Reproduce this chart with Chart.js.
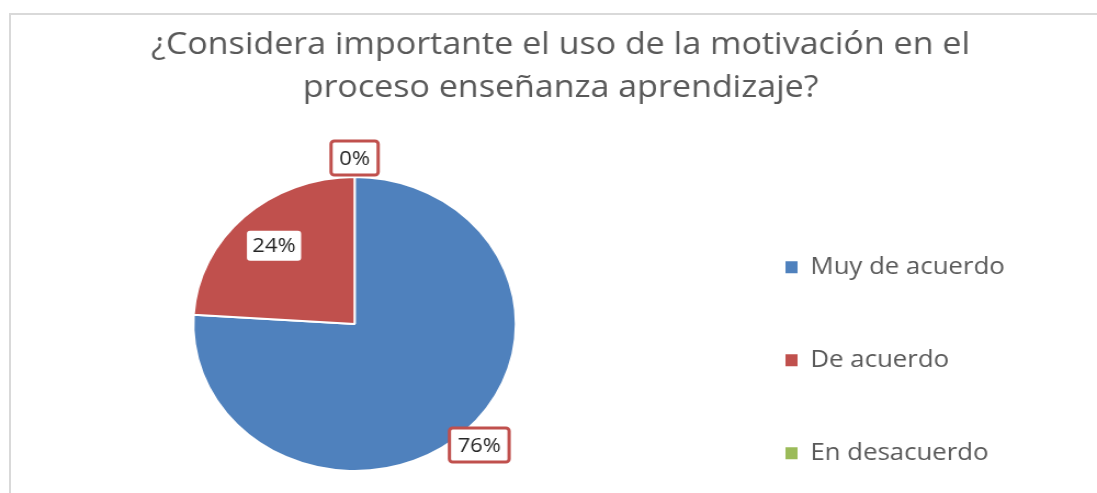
<!DOCTYPE html>
<html>
<head>
<meta charset="utf-8">
<script src="https://cdn.jsdelivr.net/npm/chart.js@4/dist/chart.umd.min.js"></script>
<style>
  html, body { margin: 0; padding: 0; background: #fff; overflow: hidden; }
  #frame { position: absolute; left: 9px; top: 13px; width: 1200px; height: 600px;
           border-left: 2px solid #d9d9d9; border-top: 2px solid #d9d9d9; }
  #wrap { position: absolute; left: 0; top: 0; width: 1000px; height: 493px;
          transform: scaleX(1.097); transform-origin: 0 0; }
</style>
</head>
<body>
<div id="frame"></div>
<div id="wrap"><canvas id="myChart"></canvas></div>
<script>
const titleLines = ['¿Considera importante el uso de la motivación en el', 'proceso enseñanza aprendizaje?']
const categories = ['Muy de acuerdo', 'De acuerdo', 'En desacuerdo']
const values = [76, 24, 0]
const colors = ['#4F81BD', '#C0504D', '#9BBB59']
const labelInside = [false, true, false]

const font = "'Open Sans', sans-serif"

// put the boxes where the original office chart has them
// (pie on the left, legend column on the right, title centred on the frame)
const placeBoxes = {
  id: 'placeBoxes',
  afterLayout(chart) {
    const a = chart.chartArea
    a.left = 0
    a.right = 646.5
    a.top = 176
    a.bottom = 472
    a.width = 646.5
    a.height = 296

    const t = chart.titleBlock
    t.left = 0
    t.right = 1022
    t.width = 1022

    const l = chart.legend
    l.left = 646.5
    l.right = 1000
    l.width = 353.5
    l.top = 186
    l.bottom = 600
    l.height = 414
  }
}

const pctLabels = {
  id: 'pctLabels',
  afterDatasetsDraw(chart) {
    const ctx = chart.ctx
    const meta = chart.getDatasetMeta(0)
    const total = values.reduce((a, b) => a + b, 0)
    ctx.save()
    ctx.font = '20px ' + font
    ctx.textAlign = 'center'
    ctx.textBaseline = 'middle'
    meta.data.forEach((arc, i) => {
      const p = arc.getProps(['x', 'y', 'startAngle', 'endAngle', 'outerRadius'], true)
      const mid = (p.startAngle + p.endAngle) / 2
      const dist = labelInside[i] ? p.outerRadius * 0.73 : p.outerRadius + 19
      const cx = p.x + Math.cos(mid) * dist
      const cy = p.y + Math.sin(mid) * dist
      const text = Math.round(values[i] / total * 100) + '%'
      const w = ctx.measureText(text).width + (labelInside[i] ? 10 : 15)
      const h = labelInside[i] ? 30 : 34
      ctx.beginPath()
      ctx.roundRect(cx - w / 2, cy - h / 2, w, h, 3)
      ctx.fillStyle = '#fff'
      ctx.fill()
      if (!labelInside[i]) {
        ctx.lineWidth = 3
        ctx.strokeStyle = '#C0504D'
        ctx.stroke()
      }
      ctx.fillStyle = '#262626'
      ctx.fillText(text, cx, cy + 1)
    })
    ctx.restore()
  }
}

const ctx = document.getElementById('myChart')
const myChart = new Chart(ctx, {
  type: 'pie',
  data: {
    labels: categories,
    datasets: [{
      data: values,
      backgroundColor: colors,
      borderColor: '#fff',
      borderWidth: 2,
      clip: false
    }]
  },
  options: {
    responsive: true,
    maintainAspectRatio: false,
    animation: false,
    plugins: {
      tooltip: { enabled: false },
      title: {
        display: true,
        text: titleLines,
        color: '#595959',
        font: { family: font, size: 31, weight: 'normal', lineHeight: '43px' },
        padding: { top: 24, bottom: 0 }
      },
      legend: {
        position: 'right',
        align: 'start',
        labels: {
          color: '#595959',
          font: { family: font, size: 23.5 },
          boxWidth: 11,
          boxHeight: 12,
          padding: 69.5,
          generateLabels: chart => Chart.overrides.pie.plugins.legend.labels.generateLabels(chart)
            .map(item => Object.assign(item, { lineWidth: 0, strokeStyle: 'rgba(0,0,0,0)' }))
        }
      }
    }
  },
  plugins: [placeBoxes, pctLabels]
})
</script>
</body>
</html>
